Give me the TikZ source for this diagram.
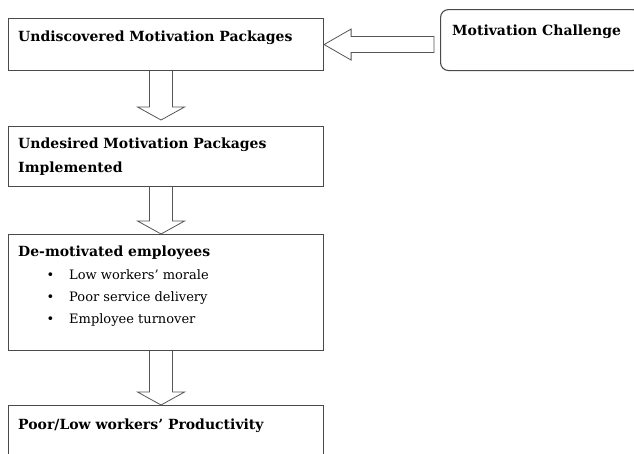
\documentclass[tikz,border=0pt]{standalone}
\usepackage{fontspec}
\setmainfont{DejaVu Serif}
\usetikzlibrary{calc}

\definecolor{boxgray}{HTML}{4A4A4A}
\definecolor{arrowgray}{HTML}{555555}

\tikzset{
  box/.style={draw=boxgray, line width=1.1pt, anchor=north west, inner sep=0pt},
  title/.style={anchor=base west, inner sep=0pt, align=left,
    font=\fontsize{14}{24}\selectfont\bfseries},
  item/.style={anchor=base west, inner sep=0pt, font=\fontsize{13}{15}\selectfont},
  hollow/.style={draw=arrowgray, line width=0.8pt, fill=white, line join=miter}
}

% hollow block arrows: #1 = tail, #2 = tip
\newcommand\downblock[2]{%
  \draw[hollow] let \p1=(#1), \p2=(#2) in
    (\x1-11.5pt,\y1) -- (\x1-11.5pt,\y2+13pt) -- (\x1-23.5pt,\y2+13pt) -- (\x1,\y2)
    -- (\x1+23.5pt,\y2+13pt) -- (\x1+11.5pt,\y2+13pt) -- (\x1+11.5pt,\y1);}
\newcommand\leftblock[2]{%
  \draw[hollow] let \p1=(#1), \p2=(#2) in
    (\x1,\y2+8pt) -- (\x2+27pt,\y2+8pt) -- (\x2+27pt,\y2+15.5pt) -- (\x2,\y2)
    -- (\x2+27pt,\y2-15.5pt) -- (\x2+27pt,\y2-8pt) -- (\x1,\y2-8pt) -- cycle;}

\begin{document}
\begin{tikzpicture}[x=1pt, y=-1pt]
  \useasboundingbox (0,0) rectangle (634,453);

  \node[box, minimum width=315pt, minimum height=52pt] (undisc) at (8,18) {};
  \node[box, minimum width=315pt, minimum height=60pt] (implem) at (8,126) {};
  \node[box, minimum width=315pt, minimum height=116pt] (demot) at (8,234) {};
  \node[box, minimum width=315pt, minimum height=60pt] (prod) at (8,405) {};
  \node[box, rounded corners=8pt, minimum width=200pt, minimum height=61pt] (challenge) at (440,9) {};

  \leftblock{[xshift=-6pt]challenge.west}{undisc.east}
  \downblock{[xshift=-5pt]undisc.south}{[xshift=-5pt,yshift=6pt]implem.north}
  \downblock{[xshift=-5pt]implem.south}{[xshift=-5pt]demot.north}
  \downblock{[xshift=-5pt]demot.south}{[xshift=-5pt]prod.north}

  % base of a two-line title sits on its last line
  \node[title] (undisc-t) at ([shift={(10,23)}]undisc.north west) {Undiscovered Motivation Packages};
  \node[title] (implem-t) at ([shift={(10,46)}]implem.north west) {Undesired Motivation Packages\\Implemented};
  \node[title] (demot-t) at ([shift={(10,22)}]demot.north west) {De-motivated employees};
  \foreach \txt [count=\i] in {Low workers’ morale, Poor service delivery, Employee turnover}
    \node[item] (item\i) at ([shift={(61,23+22*\i)}]demot.north west) {\llap{\textbullet\hspace{15pt}}\txt};
  \node[title] (prod-t) at ([shift={(10,24)}]prod.north west) {Poor/Low workers’ Productivity};
  \node[title] (challenge-t) at ([shift={(12,26)}]challenge.north west) {Motivation Challenge};
\end{tikzpicture}
\end{document}
